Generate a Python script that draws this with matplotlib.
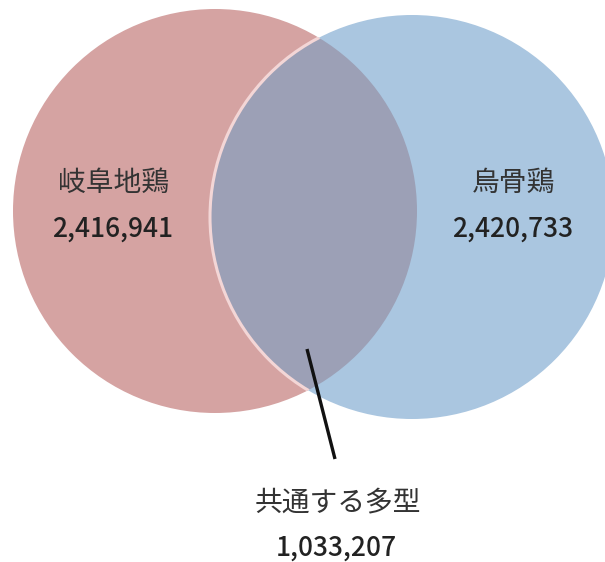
import matplotlib.pyplot as plt
from matplotlib.patches import Circle

plt.rcParams['font.family'] = ['Noto Sans CJK JP', 'DejaVu Sans']

# data
set_names = ['岐阜地鶏', '烏骨鶏']
set_counts = [2416941, 2420733]
shared_name = '共通する多型'
shared_count = 1033207

# layout (pixel coords, y down)
centers = [(215, 211), (412, 217)]
radius = 202
colors = ['#d5a3a2', '#aac6e0']
overlap_color = '#9ca0b6'

fig = plt.figure(figsize=(6.05, 5.62), dpi=100)
ax = fig.add_axes([0, 0, 1, 1])
ax.set_xlim(0, 605)
ax.set_ylim(562, 0)
ax.set_aspect('equal')
ax.axis('off')

left = Circle(centers[0], radius, facecolor=colors[0], edgecolor='none', zorder=1)
ax.add_patch(left)
right = Circle(centers[1], radius, facecolor=colors[1], edgecolor='none', zorder=1)
ax.add_patch(right)

# overlap region: right circle clipped to left circle
ov = Circle(centers[1], radius, facecolor=overlap_color, edgecolor='none', zorder=2)
ax.add_patch(ov)
ov.set_clip_path(left)

# light edge of right circle, only visible over the pink
edge = Circle(centers[1], radius, facecolor='none', edgecolor='#f3d6d6', lw=2.2, zorder=3)
ax.add_patch(edge)
edge.set_clip_path(left)

# labels
label_pos = [(113, 183), (513, 183)]
for (x, y), name, n in zip(label_pos, set_names, set_counts):
    ax.text(x, y, name, ha='center', va='center', fontsize=20, color='#333333')
    ax.text(x, y + 46, f'{n:,}', ha='center', va='center', fontsize=19,
            color='#222222', fontweight='medium')

# leader line and shared label
ax.plot([307, 335], [349, 459], color='#111111', lw=2.4, solid_capstyle='butt', zorder=4)
ax.text(338, 502, shared_name, ha='center', va='center', fontsize=20, color='#333333')
ax.text(336, 548, f'{shared_count:,}', ha='center', va='center', fontsize=19,
        color='#222222', fontweight='medium')

fig.savefig('out.png', dpi=100)
